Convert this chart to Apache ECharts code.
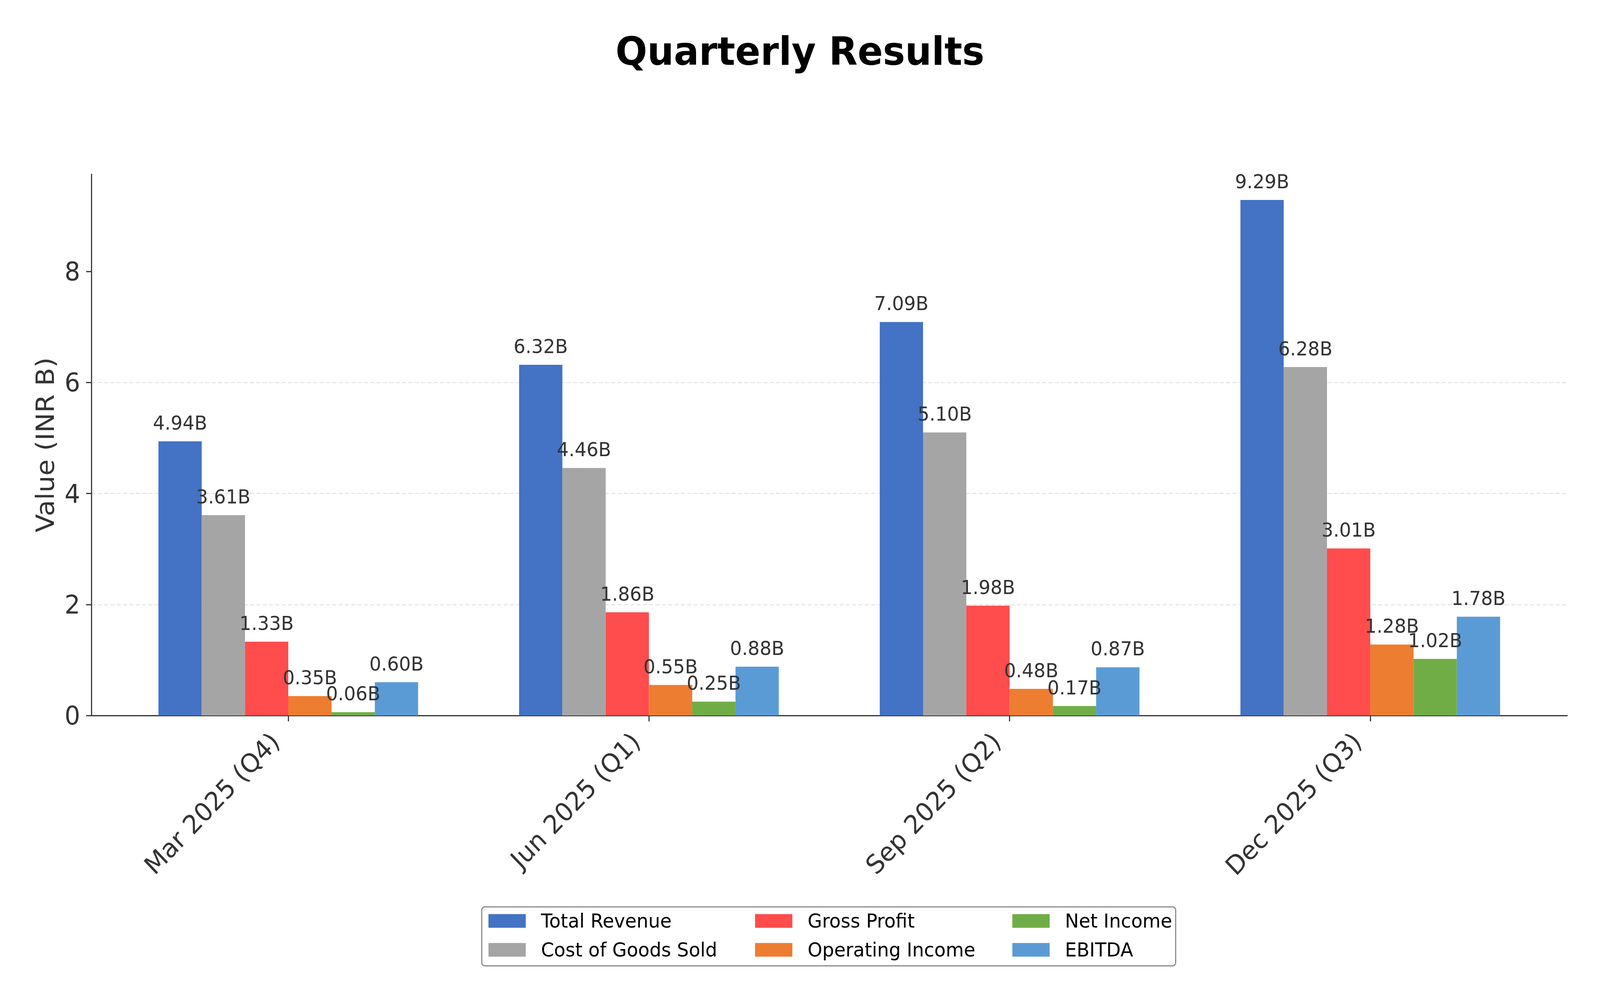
<!DOCTYPE html>
<html>
<head>
<meta charset="utf-8">
<title>Quarterly Results</title>
<script src="https://cdn.jsdelivr.net/npm/echarts@6/dist/echarts.min.js"></script>
<style>
    html, body { margin: 0; padding: 0; background: #fff; overflow: hidden; }
    #chart { width: 4291px; height: 2563px; transform-origin: 0 0; }
</style>
</head>
<body>
<div id="chart"></div>
<script>
// quarters on the x axis
var quarters = ["Mar 2025 (Q4)", "Jun 2025 (Q1)", "Sep 2025 (Q2)", "Dec 2025 (Q3)"];

// values in INR billions
var totalRevenue = [4.94, 6.32, 7.09, 9.29];
var costOfGoods = [3.61, 4.46, 5.10, 6.28];
var grossProfit = [1.33, 1.86, 1.98, 3.01];
var operatingIncome = [0.35, 0.55, 0.48, 1.28];
var netIncome = [0.06, 0.25, 0.17, 1.02];
var ebitda = [0.60, 0.88, 0.87, 1.78];

var yTicks = [0, 2, 4, 6, 8];
var yMax = 9.7545;

var fontName = "DejaVu Sans";

// the window can come out narrower than the 4291px chart, squeeze it to fit
var box = document.getElementById("chart");
var fit = Math.min(1, window.innerWidth / 4291);
box.style.transform = "scaleX(" + fit + ")";

function barSeries(name, values, color) {
    return {
        name: name,
        type: "bar",
        xAxisIndex: 0,
        yAxisIndex: 0,
        barGap: "0%",
        barCategoryGap: "28%",
        itemStyle: { color: color },
        label: {
            show: true,
            position: "top",
            distance: 22,
            fontFamily: fontName,
            fontSize: 50,
            color: "#333",
            formatter: function (p) { return p.value.toFixed(2) + "B"; }
        },
        data: values
    };
}

function legendCol(left, names) {
    return {
        orient: "vertical",
        left: left,
        top: 2328,
        itemWidth: 100,
        itemHeight: 35,
        itemGap: 24,
        icon: "rect",
        textStyle: { fontFamily: fontName, fontSize: 50, color: "#000", padding: [0, 0, 0, 36] },
        data: names
    };
}

var chart = echarts.init(box, null, { renderer: "svg" });

var option = {
    backgroundColor: "#fff",
    animation: false,
    title: {
        text: "Quarterly Results",
        left: "center",
        top: 76,
        textStyle: { fontFamily: fontName, fontSize: 100, fontWeight: "bold", color: "#000" }
    },
    grid: [
        // bars sit in this one, narrowed so the categories land where the picture has them
        { left: 289.5, right: 132.5, top: 446, bottom: 731 },
        // real plot frame: spines, y ticks and grid lines
        { left: 245, right: 88, top: 446, bottom: 731 }
    ],
    xAxis: [
        {
            type: "category",
            gridIndex: 0,
            data: quarters,
            axisLine: { show: false },
            axisTick: { show: true, alignWithLabel: true, length: 15, lineStyle: { color: "#333", width: 3 } },
            axisLabel: {
                rotate: 45,
                margin: 20,
                padding: [0, 50, 0, 0],
                fontFamily: fontName,
                fontSize: 66,
                color: "#333"
            }
        },
        {
            type: "value",
            gridIndex: 1,
            min: 0,
            max: 1,
            axisLine: { show: true, lineStyle: { color: "#333", width: 3 } },
            axisTick: { show: false },
            axisLabel: { show: false },
            splitLine: { show: false }
        }
    ],
    yAxis: [
        {
            type: "value",
            gridIndex: 0,
            min: 0,
            max: yMax,
            show: false,
            splitLine: { show: false }
        },
        {
            type: "value",
            gridIndex: 1,
            min: 0,
            max: yMax,
            interval: 2,
            name: "Value (INR B)",
            nameLocation: "middle",
            nameGap: 90,
            nameTextStyle: { fontFamily: fontName, fontSize: 68, color: "#333" },
            axisLine: { show: true, lineStyle: { color: "#333", width: 3 } },
            axisTick: { show: true, length: 14, customValues: yTicks, lineStyle: { color: "#333", width: 3 } },
            axisLabel: { margin: 30, customValues: yTicks, fontFamily: fontName, fontSize: 66, color: "#333" },
            splitLine: {
                show: true,
                showMinLine: false,
                showMaxLine: false,
                lineStyle: { color: "#e6e6e6", width: 3, type: [11, 6] }
            }
        }
    ],
    legend: [
        legendCol(1305, ["Total Revenue", "Cost of Goods Sold"]),
        legendCol(2020, ["Gross Profit", "Operating Income"]),
        legendCol(2710, ["Net Income", "EBITDA"])
    ],
    graphic: [
        {
            type: "rect",
            z: 1,
            shape: { x: 1292, y: 2322, width: 1861, height: 151, r: 8 },
            style: { fill: "#fff", stroke: "#888", lineWidth: 3 }
        }
    ],
    series: [
        barSeries("Total Revenue", totalRevenue, "#4472C4"),
        barSeries("Cost of Goods Sold", costOfGoods, "#A5A5A5"),
        barSeries("Gross Profit", grossProfit, "#FF4C4C"),
        barSeries("Operating Income", operatingIncome, "#ED7D31"),
        barSeries("Net Income", netIncome, "#70AD47"),
        barSeries("EBITDA", ebitda, "#5B9BD5")
    ]
};

chart.setOption(option);
</script>
</body>
</html>
